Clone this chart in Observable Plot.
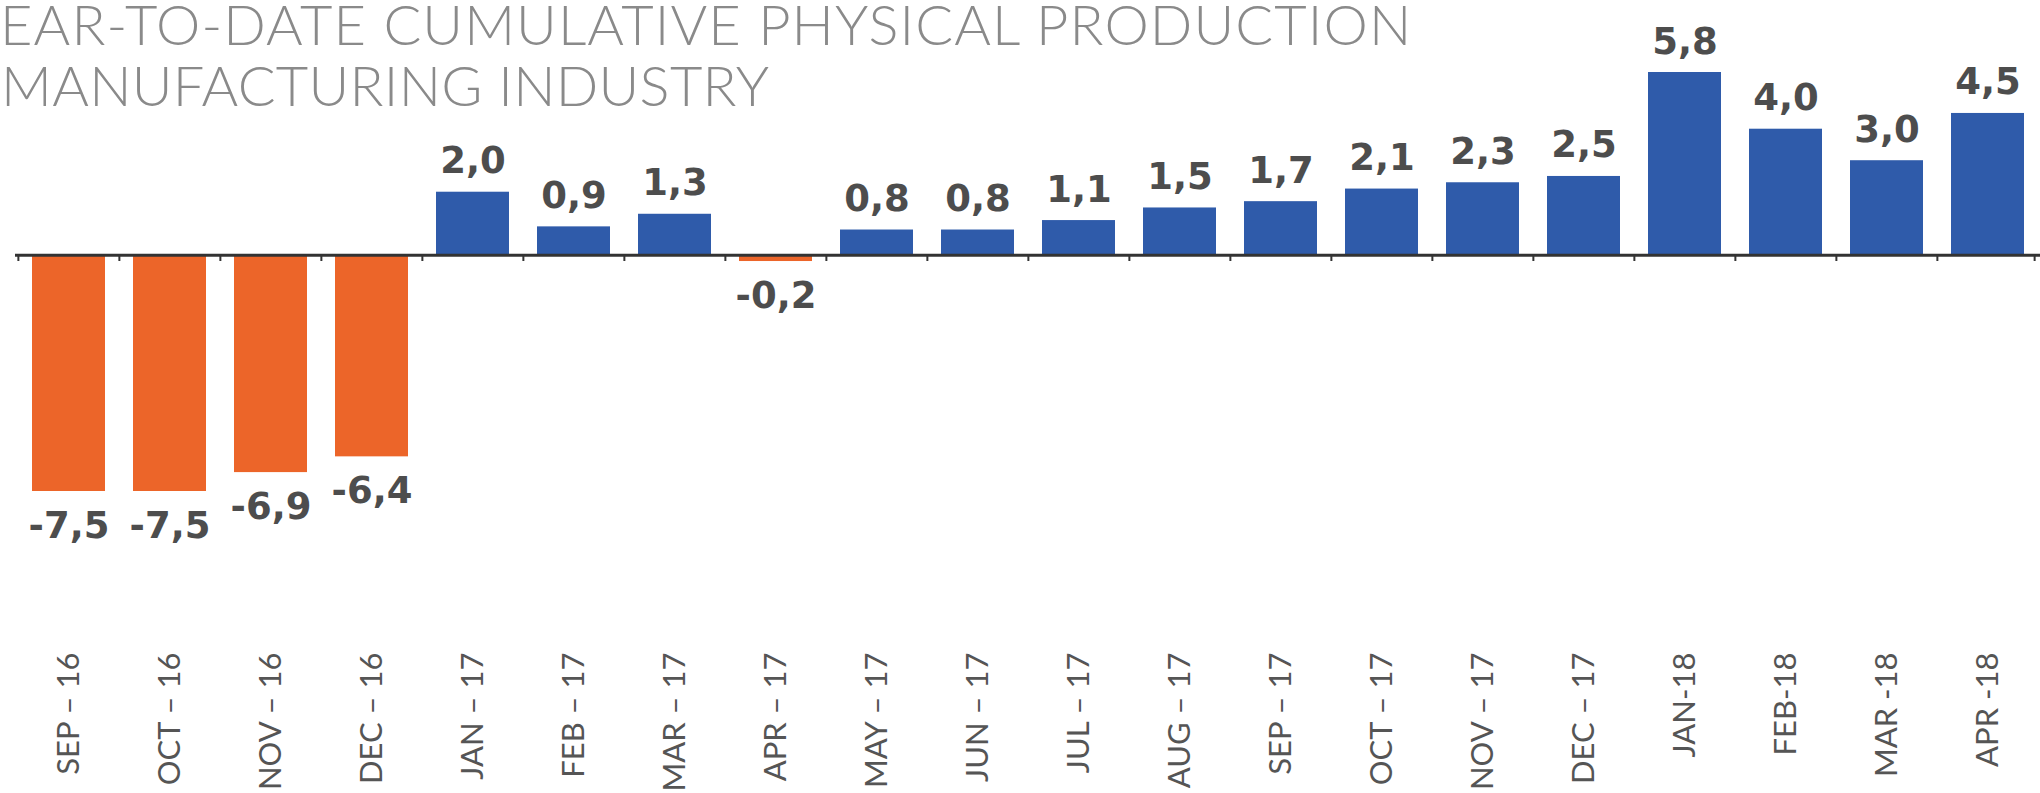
<!DOCTYPE html>
<html>
<head>
<meta charset="utf-8">
<script src="https://cdn.jsdelivr.net/npm/d3@7"></script>
<script src="https://cdn.jsdelivr.net/npm/@observablehq/plot@0.6"></script>
<style>
  html, body { margin: 0; padding: 0; background: #fff; overflow: hidden; }
  #wrap { position: relative; width: 2040px; height: 793px; overflow: hidden; }
  .title { position: absolute; left: 0; font-family: Lato, sans-serif; font-weight: 300;
           font-size: 56px; line-height: 56px; color: #8a8a8a; white-space: nowrap; }
  #t1 { top: -4px; left: 0px; letter-spacing: 1.1px; }
  #t2 { top: 57px; left: 1px; letter-spacing: 0.3px; }
</style>
</head>
<body>
<div id="wrap">
  <div id="chart"></div>
  <div class="title" id="t1">EAR-TO-DATE CUMULATIVE PHYSICAL PRODUCTION</div>
  <div class="title" id="t2">MANUFACTURING INDUSTRY</div>
</div>
<script>
const months = ["SEP – 16","OCT – 16","NOV – 16","DEC – 16","JAN – 17","FEB – 17","MAR – 17","APR – 17","MAY – 17","JUN – 17","JUL – 17","AUG – 17","SEP – 17","OCT – 17","NOV – 17","DEC – 17","JAN-18","FEB-18","MAR -18","APR -18"];
const values = [-7.5,-7.5,-6.9,-6.4,2.0,0.9,1.3,-0.2,0.8,0.8,1.1,1.5,1.7,2.1,2.3,2.5,5.8,4.0,3.0,4.5];

const data = months.map((m, i) => ({month: m, value: values[i]}));
const fmt = v => (v < 0 ? "-" : "") + Math.abs(v).toFixed(1).replace(".", ",");

const W = 2040, H = 793, mL = 15, mR = 0, pIn = 0.28, pOut = 0.14;
const step = (W - mL - mR) / (months.length - pIn + 2 * pOut);

const chart = Plot.plot({
  width: W,
  height: H,
  marginLeft: mL,
  marginRight: mR,
  marginTop: 72,
  marginBottom: 302,
  style: {background: "transparent", overflow: "visible"},
  x: {type: "band", domain: months, paddingInner: pIn, paddingOuter: pOut, label: null},
  y: {domain: [-7.5, 5.8], axis: null},
  marks: [
    Plot.barY(data, {x: "month", y: "value", fill: d => d.value < 0 ? "#EC6529" : "#2F5BAA"}),
    Plot.ruleY([0], {stroke: "#333", strokeWidth: 3}),
    Plot.ruleX(months, {x: d => d, y1: 0, y2: -0.2, dx: -step / 2, stroke: "#333", strokeWidth: 2}),
    Plot.ruleX(months.slice(-1), {x: d => d, y1: 0, y2: -0.2, dx: step / 2 - 4, stroke: "#333", strokeWidth: 2}),
    Plot.text(data.filter(d => d.value >= 0), {x: "month", y: "value", text: d => fmt(d.value),
      lineAnchor: "bottom", dy: -19, fontSize: 37, fontWeight: "bold", fill: "#4d4d4d",
      fontFamily: "DejaVu Sans", style: {letterSpacing: "1.5px"}}),
    Plot.text(data.filter(d => d.value < 0), {x: "month", y: "value", text: d => fmt(d.value),
      lineAnchor: "top", dy: 20, fontSize: 37, fontWeight: "bold", fill: "#4d4d4d",
      fontFamily: "DejaVu Sans", style: {letterSpacing: "1.5px"}}),
    Plot.axisX({anchor: "bottom", tickSize: 0, tickPadding: 161, tickRotate: -90,
      fontSize: 31, fontFamily: "Lato", fill: "#555", label: null})
  ]
});
document.getElementById("chart").appendChild(chart);
</script>
</body>
</html>
